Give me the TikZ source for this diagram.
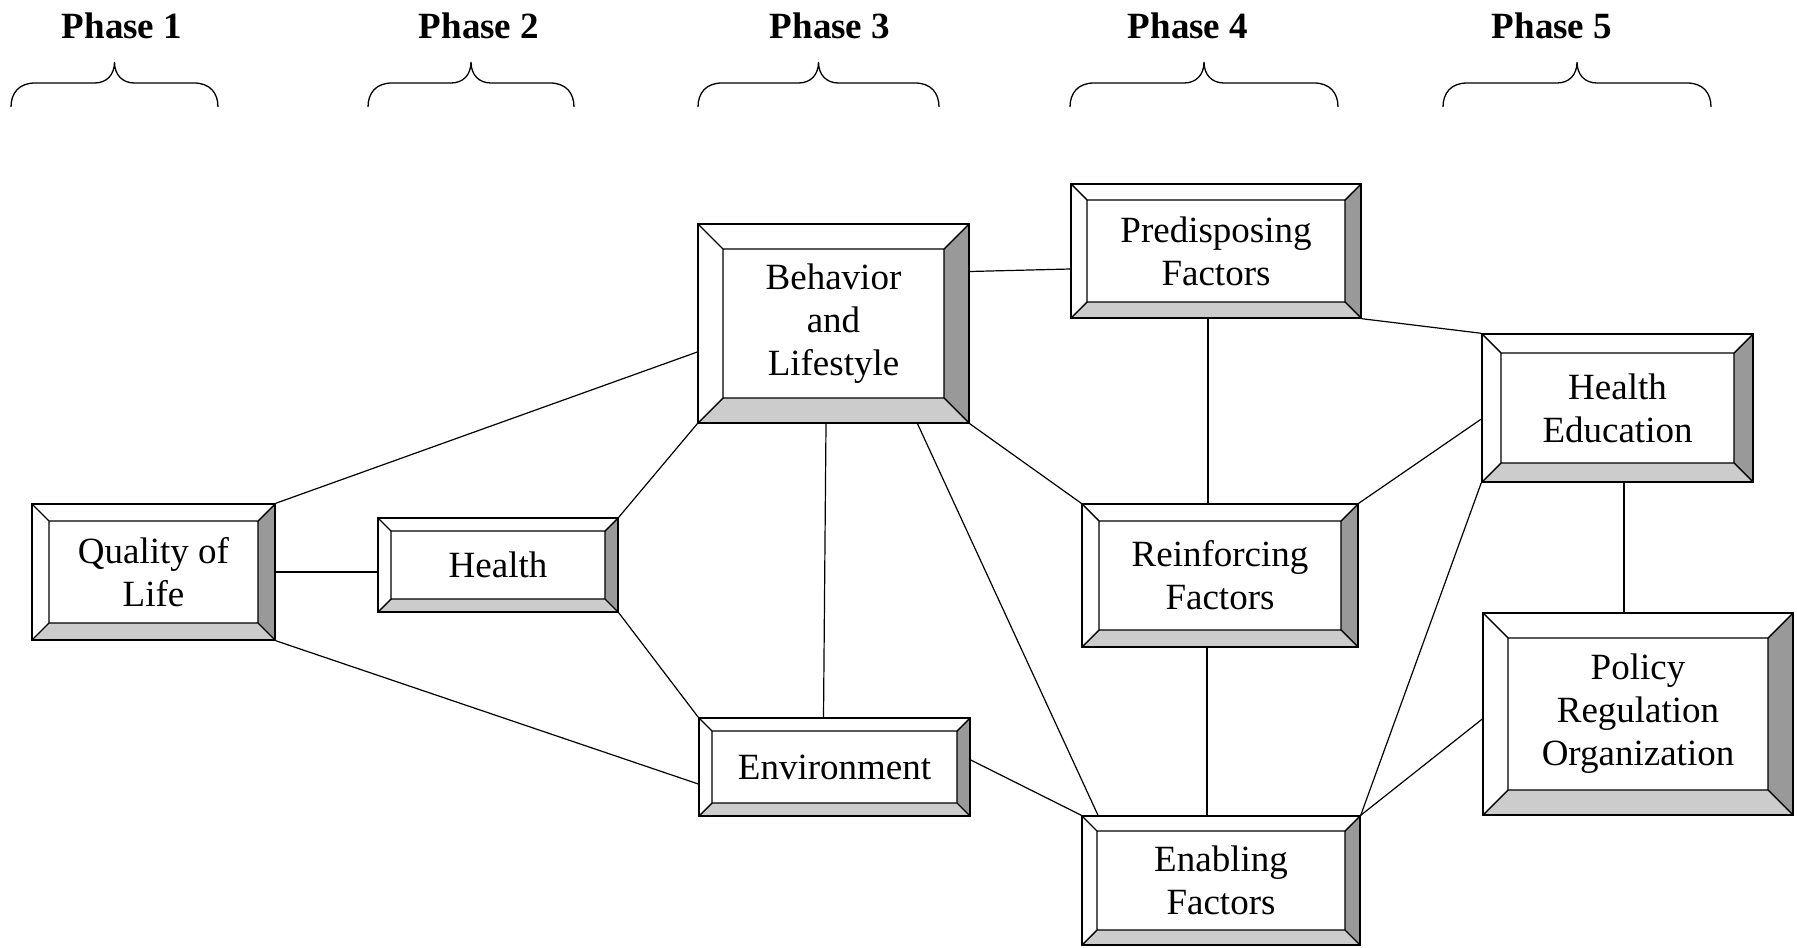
\documentclass[tikz,border=0pt]{standalone}
\usepackage{fontspec}
\setmainfont{Liberation Serif}
\usepackage{tikz}
\definecolor{bevelDark}{gray}{0.6}
\definecolor{bevelLight}{gray}{0.8}
\newcommand{\boxfont}{\fontsize{18.5}{21.5}\selectfont}
\tikzset{
  bevel width/.store in=\bevelwd,
  bevel width=6.5pt,
  stage box/.style={draw, line width=0.7pt, fill=white, inner sep=0pt,
    align=center, font=\boxfont,
    path picture={
      \coordinate (onw) at (path picture bounding box.north west);
      \coordinate (one) at (path picture bounding box.north east);
      \coordinate (osw) at (path picture bounding box.south west);
      \coordinate (ose) at (path picture bounding box.south east);
      \coordinate (inw) at ([shift={(\bevelwd,-\bevelwd)}]onw);
      \coordinate (ine) at ([shift={(-\bevelwd,-\bevelwd)}]one);
      \coordinate (isw) at ([shift={(\bevelwd,\bevelwd)}]osw);
      \coordinate (ise) at ([shift={(-\bevelwd,\bevelwd)}]ose);
      \fill[bevelDark] (one) -- (ose) -- (ise) -- (ine) -- cycle;
      \fill[bevelLight] (osw) -- (ose) -- (ise) -- (isw) -- cycle;
      \draw[line width=0.7pt] (inw) rectangle (ise)
        (onw) -- (inw) (one) -- (ine) (osw) -- (isw) (ose) -- (ise);
    }},
  phase label/.style={anchor=base, font=\bfseries\boxfont},
  link/.style={line width=0.6pt},
  brace line/.style={line width=0.65pt},
  pics/phase brace/.style={code={
    \draw[brace line] (-#1,0) .. controls (-#1,-14) and (-#1+8,-24) .. (-#1+24,-24)
      -- (-20,-24) .. controls (-8,-24) and (0,-32) .. (0,-45)
      .. controls (0,-32) and (8,-24) .. (20,-24)
      -- (#1-24,-24) .. controls (#1-8,-24) and (#1,-14) .. (#1,0);
  }}
}

\begin{document}
\begin{tikzpicture}[x=0.5pt, y=-0.5pt]
    \useasboundingbox (0,0) rectangle (1797,947);

    % phases
    \node [phase label] (phase1) at (122, 39) {Phase 1};
    \node [phase label] (phase2) at (479, 39) {Phase 2};
    \node [phase label] (phase3) at (830, 39) {Phase 3};
    \node [phase label] (phase4) at (1188, 39) {Phase 4};
    \node [phase label] (phase5) at (1552, 39) {Phase 5};
    \pic at (114.5, 107) {phase brace=103.5};
    \pic at (471, 107) {phase brace=103};
    \pic at (818.5, 107) {phase brace=120.5};
    \pic at (1204, 107) {phase brace=134};
    \pic at (1577, 107) {phase brace=134};

    % boxes
    \node [stage box, minimum width=121.5pt, minimum height=68pt, bevel width=8.5pt]
        (qol) at (153.5, 572) {Quality of\\Life};
    \node [stage box, minimum width=120pt, minimum height=47pt, bevel width=6.5pt]
        (health) at (498, 565) {Health};
    \node [stage box, minimum width=135.5pt, minimum height=99.5pt, bevel width=12.5pt]
        (behav) at (833.5, 323.5) {Behavior\\and\\Lifestyle};
    \node [stage box, minimum width=135.5pt, minimum height=49pt, bevel width=6.5pt]
        (env) at (834.5, 767) {Environment};
    \node [stage box, minimum width=145pt, minimum height=67pt, bevel width=8pt]
        (predisp) at (1216, 251) {Predisposing\\Factors};
    \node [stage box, minimum width=138pt, minimum height=71.5pt, bevel width=8.5pt]
        (reinf) at (1220, 575.5) {Reinforcing\\Factors};
    \node [stage box, minimum width=139pt, minimum height=64.5pt, bevel width=7.5pt]
        (enab) at (1221, 880.5) {Enabling\\Factors};
    \node [stage box, minimum width=135.5pt, minimum height=74pt, bevel width=9.5pt]
        (hedu) at (1617.5, 408) {Health\\Education};
    \node [stage box, minimum width=155pt, minimum height=101pt, bevel width=12.5pt]
        (policy) at (1638, 714) {Policy\\Regulation\\Organization};

    % edges
    \draw [link] (qol.north east) to ([yshift=-14.25pt]behav.west);
    \draw [link] (qol.east) to (qol.east -| health.west);
    \draw [link] (qol.south east) to ([yshift=-8.5pt]env.west);
    \draw [link] (health.north east) to (behav.south west);
    \draw [link] (health.south east) to (env.north west);
    \draw [link] ([xshift=-3.75pt]behav.south) to ([xshift=-5.5pt]env.north);
    \draw [link] ([xshift=42pt]behav.south) to ([xshift=-61.5pt]enab.north);
    \draw [link] ([yshift=26pt]behav.east) to ([yshift=-9pt]predisp.west);
    \draw [link] (behav.south east) to (reinf.north west);
    \draw [link] ([xshift=-4pt]predisp.south) to ([xshift=-6pt]reinf.north);
    \draw [link] (predisp.south east) to (hedu.north west);
    \draw [link] (reinf.north east) to ([yshift=-5.5pt]hedu.west);
    \draw [link] ([xshift=-6.5pt]reinf.south) to ([xshift=-7pt]enab.north);
    \draw [link] ([yshift=3.5pt]env.east) to (enab.north west);
    \draw [link] (enab.north east) to (hedu.south west);
    \draw [link] (enab.north east) to ([yshift=-2.5pt]policy.west);
    \draw [link] ([xshift=3.25pt]hedu.south) to ([xshift=-7pt]policy.north);
\end{tikzpicture}
\end{document}
